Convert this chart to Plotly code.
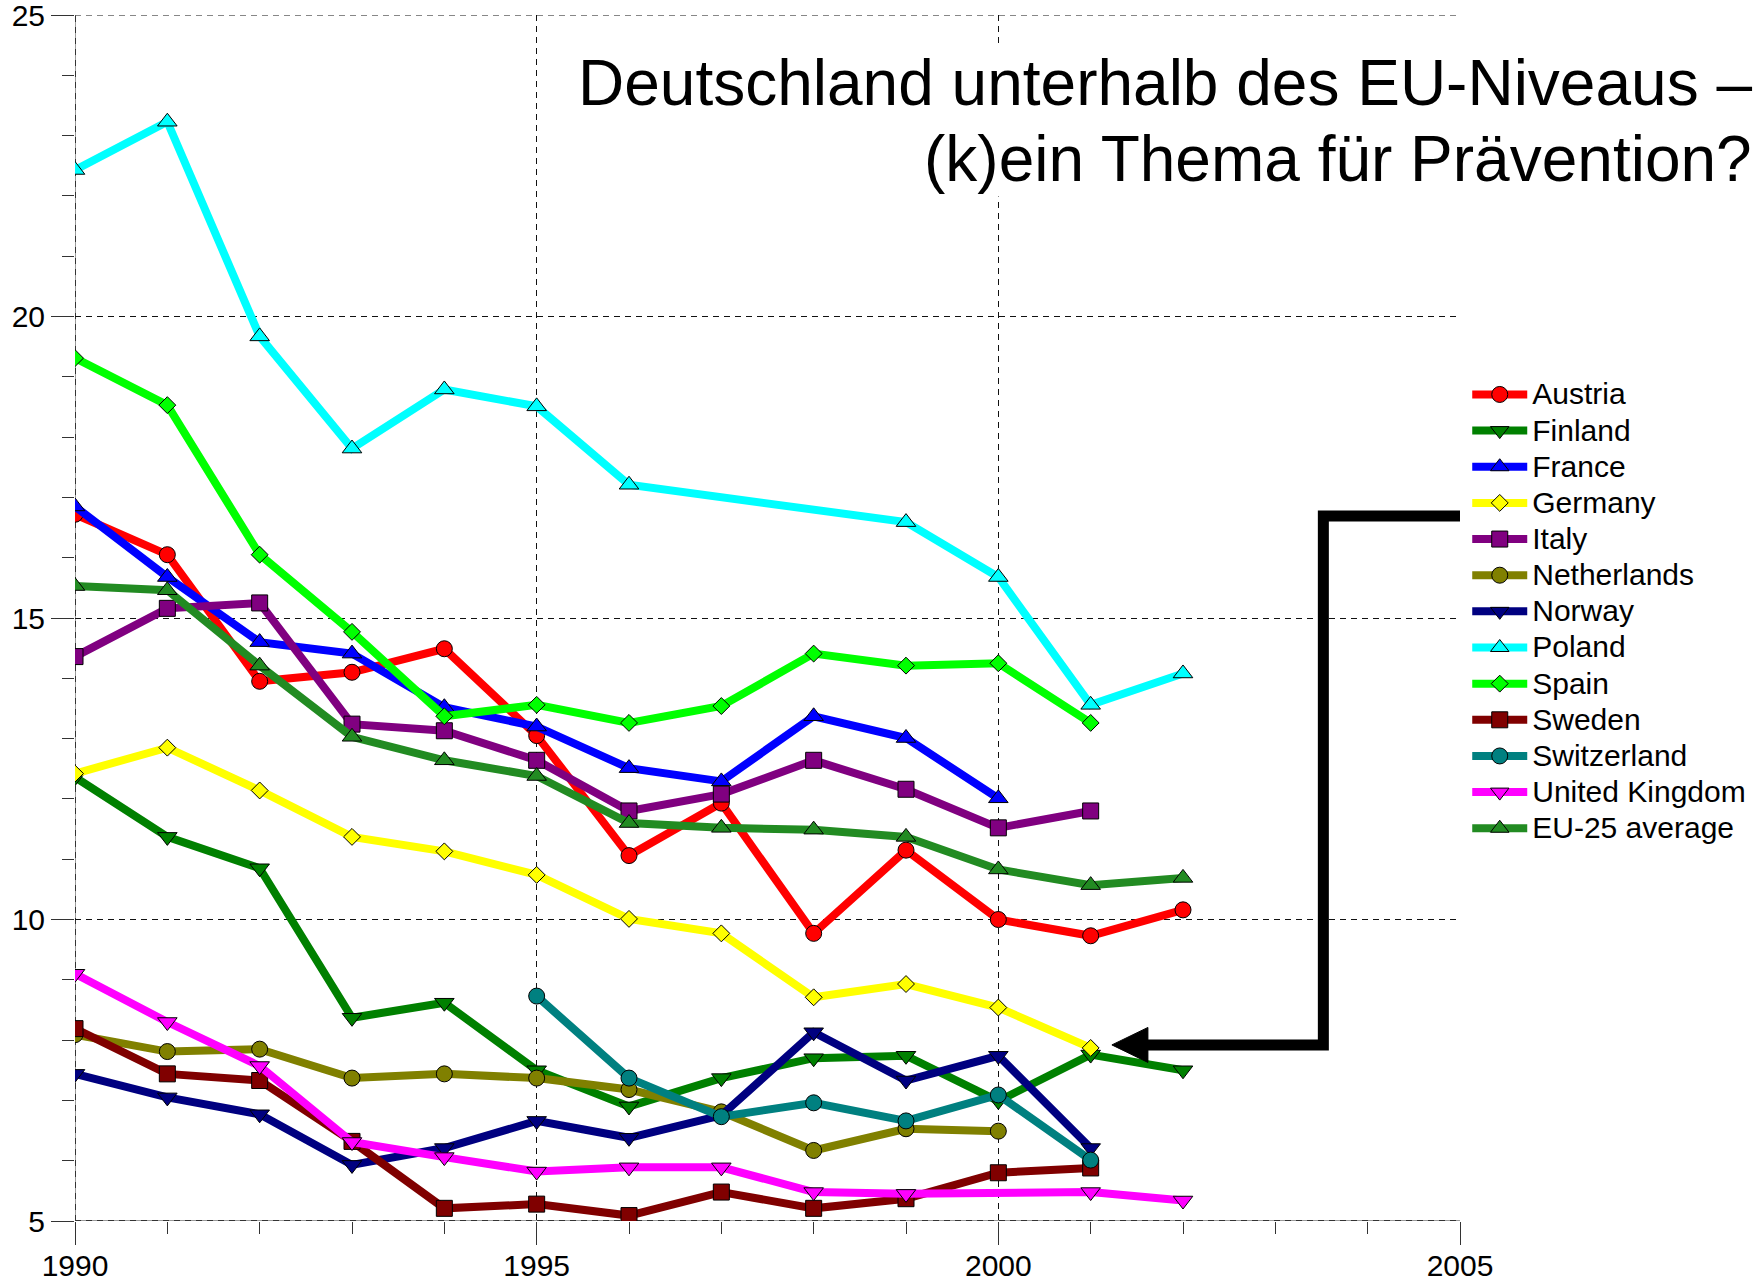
import plotly.graph_objects as go

years = list(range(1990, 2003))

austria = [16.72, 16.05, 13.95, 14.10, 14.49, 13.05, 11.06, 11.93, 9.77, 11.15, 10.0, 9.73, 10.16]
finland = [12.36, 11.37, 10.85, 8.37, 8.62, 7.50, 6.90, 7.37, 7.70, 7.74, 6.99, 7.76, 7.50]
france = [16.85, 15.68, 14.60, 14.41, 13.52, 13.20, 12.51, 12.29, 13.37, 13.01, 12.01, None, None]
germany = [12.42, 12.85, 12.14, 11.37, 11.13, 10.74, 10.01, 9.77, 8.71, 8.93, 8.54, 7.87, None]
italy = [14.36, 15.16, 15.25, 13.24, 13.13, 12.64, 11.80, 12.08, 12.64, 12.16, 11.52, 11.80, None]
netherlands = [8.09, 7.81, 7.85, 7.37, 7.44, 7.37, 7.18, 6.81, 6.17, 6.53, 6.49, None, None]
norway = [7.44, 7.05, 6.77, 5.93, 6.21, 6.66, 6.38, 6.75, 8.13, 7.33, 7.74, 6.21, None]
poland = [22.43, 23.23, 19.67, 17.81, 18.79, 18.51, 17.21, None, None, 16.59, 15.68, 13.56, 14.08]
spain = [19.31, 18.53, 16.05, 14.77, 13.37, 13.56, 13.26, 13.54, 14.41, 14.21, 14.25, 13.26, None]
sweden = [8.19, 7.44, 7.33, 6.32, 5.21, 5.28, 5.09, 5.48, 5.21, 5.37, 5.80, 5.88, None]
switzerland = [None, None, None, None, None, 8.73, 7.37, 6.73, 6.96, 6.66, 7.09, 6.01, None]
uk = [9.10, 8.30, 7.57, 6.31, 6.06, 5.82, 5.89, 5.89, 5.48, 5.45, None, 5.48, 5.34]
eu25 = [15.53, 15.46, 14.21, 13.03, 12.64, 12.38, 11.60, 11.52, 11.49, 11.37, 10.83, 10.57, 10.69]

series = [
    ("Austria", austria, "#FF0000", "circle"),
    ("Finland", finland, "#008000", "triangle-down"),
    ("France", france, "#0000FF", "triangle-up"),
    ("Germany", germany, "#FFFF00", "diamond"),
    ("Italy", italy, "#800080", "square"),
    ("Netherlands", netherlands, "#808000", "circle"),
    ("Norway", norway, "#000080", "triangle-down"),
    ("Poland", poland, "#00FFFF", "triangle-up"),
    ("Spain", spain, "#00FF00", "diamond"),
    ("Sweden", sweden, "#800000", "square"),
    ("Switzerland", switzerland, "#008080", "circle"),
    ("United Kingdom", uk, "#FF00FF", "triangle-down"),
    ("EU-25 average", eu25, "#228B22", "triangle-up"),
]

x_ticks = [1990, 1995, 2000, 2005]
y_ticks = [5, 10, 15, 20, 25]

title_lines = ["Deutschland unterhalb des EU-Niveaus \u2013", "(k)ein Thema f\u00fcr Pr\u00e4vention?"]

FONT = "Liberation Sans, Arial, Helvetica, sans-serif"
SYM_SIZE = {"circle": 16, "square": 16, "triangle-up": 17, "triangle-down": 17, "diamond": 13}

fig = go.Figure()
for name, vals, color, sym in series:
    fig.add_trace(go.Scatter(
        x=years, y=vals,
        name='<span style="font-size:30px">' + name + '</span>',
        mode="lines+markers", connectgaps=True,
        line=dict(color=color, width=8),
        marker=dict(symbol=sym, size=SYM_SIZE[sym], color=color,
                    line=dict(color="black", width=1)),
    ))

axis_common = dict(
    showline=False, zeroline=False, automargin=False,
    showgrid=True, gridcolor="#111111", gridwidth=1, griddash="6px,5px",
    ticks="outside", ticklen=23, tickwidth=1, tickcolor="#333333",
    tickfont=dict(family=FONT, size=30, color="black"),
    tickmode="array", ticklabeloverflow="allow",
)

fig.update_xaxes(range=[1990, 2005], tickvals=x_ticks, ticklabelstandoff=-5,
                 minor=dict(dtick=1, tick0=1990, ticklen=12, ticks="outside",
                            tickcolor="#333333", showgrid=False),
                 **axis_common)
fig.update_yaxes(range=[5, 25], tickvals=y_ticks,
                 minor=dict(dtick=1, tick0=5, ticklen=12, ticks="outside",
                            tickcolor="#333333", showgrid=False),
                 **axis_common)

# axis lines at the low ends (grey with darker dashes)
for x0, y0, x1, y1 in [(1990, 5, 1990, 25), (1990, 5, 2005, 5)]:
    fig.add_shape(type="line", xref="x", yref="y", x0=x0, y0=y0, x1=x1, y1=y1,
                  line=dict(color="#9a9a9a", width=2), layer="below")
    fig.add_shape(type="line", xref="x", yref="y", x0=x0, y0=y0, x1=x1, y1=y1,
                  line=dict(color="#333333", width=2, dash="6px,5px"), layer="below")
# top grid line at the range end (not drawn by the grid at the edge)
fig.add_shape(type="line", xref="x", yref="y", x0=1990, y0=25, x1=2005, y1=25,
              line=dict(color="#111111", width=1, dash="6px,5px"), layer="below")

# title annotations (two lines, right aligned, white background)
fig.add_annotation(text=title_lines[0], xref="paper", yref="paper", x=1.212, y=0.944,
                   xanchor="right", yanchor="middle", showarrow=False, bgcolor="white",
                   font=dict(family=FONT, size=64, color="black"))
fig.add_annotation(text=title_lines[1], xref="paper", yref="paper", x=1.212, y=0.881,
                   xanchor="right", yanchor="middle", showarrow=False, bgcolor="white",
                   font=dict(family=FONT, size=64, color="black"))

# arrow pointing to Germany
fig.add_shape(type="path", xref="x", yref="y",
              path="M 2005,16.69 L 2003.52,16.69 L 2003.52,7.92 L 2001.58,7.92",
              line=dict(color="black", width=11))
fig.add_shape(type="path", xref="x", yref="y",
              path="M 2001.23,7.92 L 2001.62,8.21 L 2001.62,7.63 Z",
              fillcolor="black", line=dict(color="black", width=1))

fig.update_layout(
    width=1762, height=1285,
    margin=dict(l=75, r=301, t=15, b=64),
    plot_bgcolor="white", paper_bgcolor="white",
    font=dict(family=FONT, color="black"),
    showlegend=True,
    legend=dict(x=1.0045, y=0.7045, xanchor="left", yanchor="top",
                font=dict(family=FONT, size=25.5, color="black"),
                bgcolor="rgba(0,0,0,0)", itemwidth=55, tracegroupgap=0),
)

fig.write_html("out.html", config={"displayModeBar": False},
               post_script="document.body.style.margin='0px';")
